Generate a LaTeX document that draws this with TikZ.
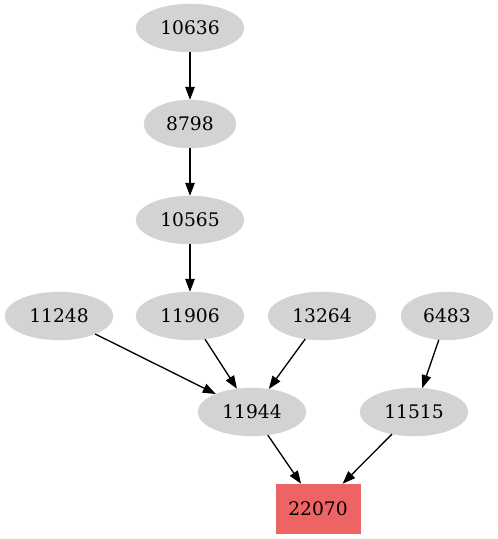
\documentclass[tikz,border=0pt]{standalone}
\usepackage{fontspec}
\setmainfont{DejaVu Serif}
\usetikzlibrary{shapes.geometric,arrows.meta}
\definecolor{nodegray}{HTML}{D3D3D3}
\definecolor{targetred}{HTML}{EE6363}
\tikzset{
  gnode/.style={ellipse, fill=nodegray, draw=nodegray, inner sep=0pt, minimum height=48pt, font=\fontsize{18.67}{22}\selectfont},
  wide/.style={gnode, minimum width=108pt},
  narrow/.style={gnode, minimum width=92pt},
  target/.style={rectangle, fill=targetred, draw=targetred, inner sep=0pt, minimum width=84pt, minimum height=49pt, font=\fontsize{18.67}{22}\selectfont},
  edge/.style={line width=1.33pt, -{Triangle[length=13pt,width=9.5pt]}}
}
\begin{document}
\begin{tikzpicture}[x=1pt,y=-1pt]
\useasboundingbox (0,0) rectangle (498,539);
\node[wide] (n10636) at (190,28) {10636};
\node[narrow] (n8798) at (190,124) {8798};
\node[wide] (n10565) at (190,220) {10565};
\node[wide] (n11248) at (59,316) {11248};
\node[wide] (n11906) at (190,316) {11906};
\node[wide] (n13264) at (322,316) {13264};
\node[narrow] (n6483) at (447,316) {6483};
\node[wide] (n11944) at (252,412) {11944};
\node[wide] (n11515) at (414,412) {11515};
\node[target] (n22070) at (318,508.5) {22070};
\draw[edge] (n10636) -- (n8798);
\draw[edge] (n8798) -- (n10565);
\draw[edge] (n10565) -- (n11906);
\draw[edge] (n11248) -- (n11944);
\draw[edge] (n11906) -- (n11944);
\draw[edge] (n13264) -- (n11944);
\draw[edge] (n6483) -- (n11515);
\draw[edge] (n11944) -- (n22070);
\draw[edge] (n11515) -- (n22070);
\end{tikzpicture}
\end{document}
